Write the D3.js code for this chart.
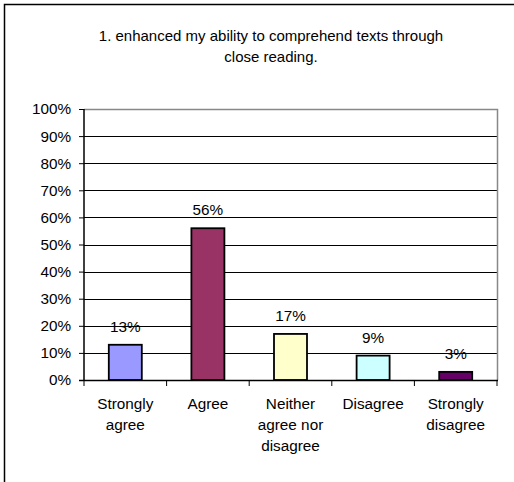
<!DOCTYPE html>
<html><head><meta charset="utf-8">
<script src="https://cdn.jsdelivr.net/npm/d3@7/dist/d3.min.js"></script>
<style>body{margin:0;background:#fff}svg{display:block}text{font-family:Arial,"Liberation Sans",sans-serif;fill:#000}</style>
</head><body><svg id="c" width="514" height="482"></svg>
<script>
const categories = [["Strongly","agree"],["Agree"],["Neither","agree nor","disagree"],["Disagree"],["Strongly","disagree"]];
const values = [13, 56, 17, 9, 3];
const colors = ["#9999FF","#993366","#FFFFCC","#CCFFFF","#660066"];
const yTicks = [0,10,20,30,40,50,60,70,80,90,100];
const titleLines = ["1. enhanced my ability to comprehend texts through","close reading."];

const FS = 15.3;
const svg = d3.select("#c");
svg.append("rect").attr("x",4.5).attr("y",4.5).attr("width",540).attr("height",520)
  .attr("fill","none").attr("stroke","#000").attr("stroke-width",1.5);

const L=84, R=497, T=109, B=380;
const x = d3.scaleBand().domain(d3.range(values.length)).range([L,R]).paddingInner(0).paddingOuter(0);
const y = d3.scaleLinear().domain([0,100]).range([B,T]);

svg.selectAll("text.title").data(titleLines).join("text").attr("class","title")
  .attr("x",271).attr("y",(d,i)=>41+i*21).attr("text-anchor","middle").attr("font-size",15).text(d=>d);

// gridlines
svg.append("g").selectAll("line").data(yTicks.filter(t=>t>0&&t<100)).join("line")
  .attr("x1",L).attr("x2",R).attr("y1",d=>Math.round(y(d))+0.5).attr("y2",d=>Math.round(y(d))+0.5)
  .attr("stroke","#000").attr("stroke-width",1);
// plot border top/right gray
svg.append("path").attr("d",`M${L},${T+0.5}H${R+0.5}V${B}`).attr("fill","none").attr("stroke","#888").attr("stroke-width",1.5);

// bars
const bw = 33;
svg.append("g").selectAll("rect").data(values).join("rect")
  .attr("x",(d,i)=>x(i)+x.bandwidth()/2-bw/2).attr("width",bw)
  .attr("y",d=>y(d)).attr("height",d=>B-y(d))
  .attr("fill",(d,i)=>colors[i]).attr("stroke","#000").attr("stroke-width",1.8);

// value labels
svg.append("g").selectAll("text").data(values).join("text")
  .attr("x",(d,i)=>x(i)+x.bandwidth()/2).attr("y",d=>y(d)-13)
  .attr("text-anchor","middle").attr("font-size",FS).text(d=>d+"%");

// y axis
const ya = d3.axisLeft(y).tickValues(yTicks).tickFormat(d=>d+"%").tickSize(5).tickPadding(8);
const gy = svg.append("g").attr("transform",`translate(${L},0)`).call(ya);
gy.select(".domain").attr("stroke","#000").attr("stroke-width",1.5).attr("d",`M0,${T}V${B}`);
gy.selectAll(".tick line").attr("stroke","#000");
gy.selectAll(".tick text").attr("font-size",FS).attr("font-family","Arial,'Liberation Sans',sans-serif").attr("fill","#000");

// x axis
const gx = svg.append("g").attr("transform",`translate(0,${B})`);
gx.append("line").attr("x1",L-5).attr("x2",R+1).attr("y1",0.5).attr("y2",0.5).attr("stroke","#000").attr("stroke-width",1.5);
gx.selectAll("line.tk").data(d3.range(values.length+1)).join("line").attr("class","tk")
  .attr("x1",i=>i<values.length?x(i):R).attr("x2",i=>i<values.length?x(i):R)
  .attr("y1",0).attr("y2",6).attr("stroke","#000");
categories.forEach((lines,i)=>{
  gx.append("text").attr("x",x(i)+x.bandwidth()/2).attr("text-anchor","middle").attr("font-size",FS)
    .selectAll("tspan").data(lines).join("tspan").attr("x",x(i)+x.bandwidth()/2).attr("y",(d,j)=>29+j*21).text(d=>d);
});
</script></body></html>
